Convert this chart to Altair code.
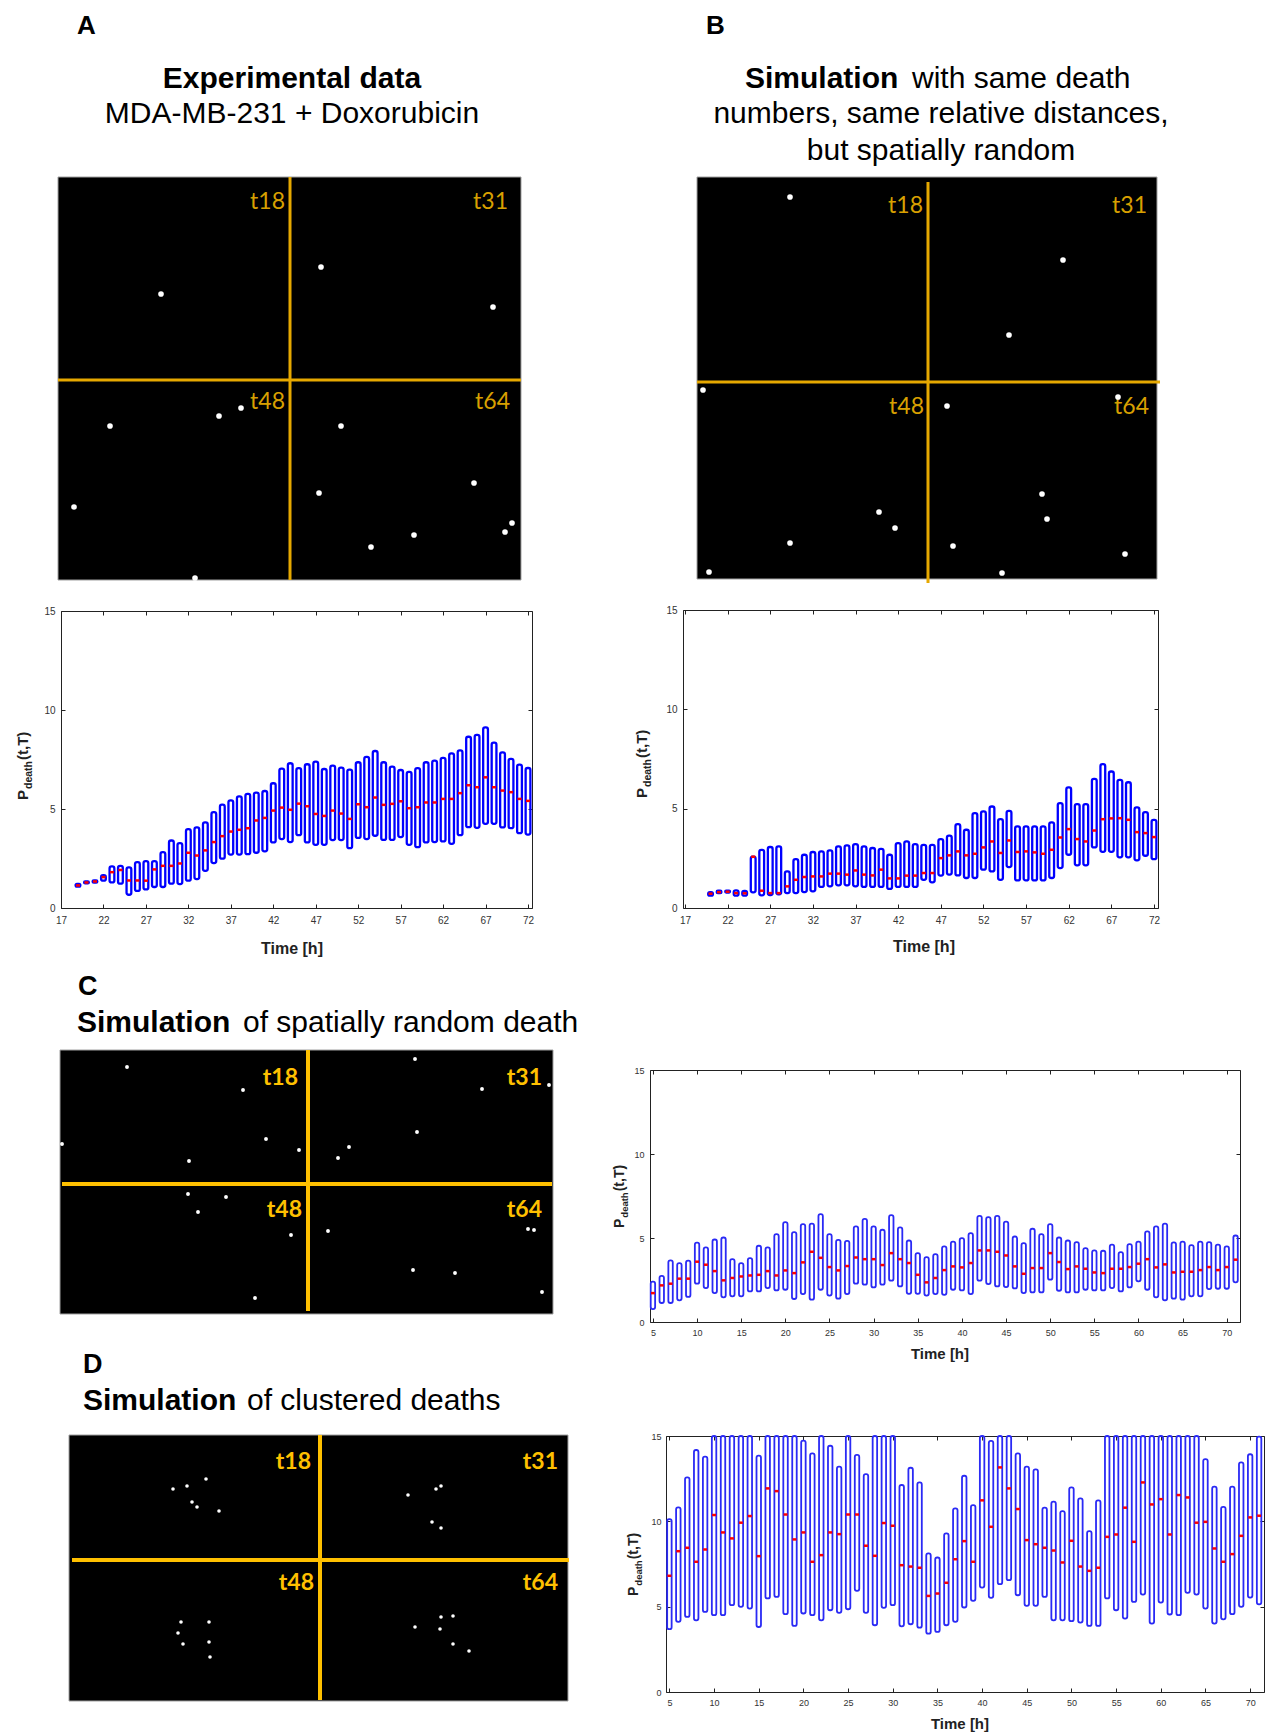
import altair as alt
import pandas as pd

W_TOT, H_TOT = 1266, 1736
FONT = "Liberation Sans"
LBLFONT = "Lato"

# ---------------- box plot data (quartile boxes + medians) ----------------
a_hours = list(range(19, 73))
a_lo = [1.08, 1.24, 1.28, 1.38, 1.29, 1.23, 0.67, 0.86, 0.94, 1.06, 1.06, 1.23, 1.21, 1.38, 1.46, 1.88,
        2.27, 2.49, 2.70, 2.70, 2.72, 2.79, 2.86, 3.31, 3.48, 3.33, 3.68, 3.31, 3.19, 3.19, 3.43, 3.43,
        3.02, 3.54, 3.48, 3.65, 3.44, 3.44, 3.58, 3.19, 3.07, 3.31, 3.33, 3.36, 3.24, 3.68, 4.08, 4.05,
        4.25, 4.25, 4.07, 4.03, 3.78, 3.71]
a_hi = [1.22, 1.34, 1.40, 1.66, 2.10, 2.13, 2.05, 2.32, 2.37, 2.37, 2.82, 3.41, 3.28, 3.98, 4.07, 4.32,
        4.84, 5.22, 5.44, 5.64, 5.76, 5.83, 5.91, 6.30, 7.04, 7.31, 7.06, 7.26, 7.39, 7.02, 7.19, 7.09,
        6.99, 7.36, 7.63, 7.93, 7.36, 7.14, 6.97, 6.87, 7.06, 7.36, 7.44, 7.58, 7.81, 7.96, 8.65, 8.74,
        9.12, 8.35, 7.86, 7.53, 7.24, 7.07]
a_med = [1.14, 1.29, 1.34, 1.56, 1.81, 1.92, 1.39, 1.39, 1.38, 1.95, 2.13, 2.13, 2.25, 2.79, 2.65, 2.91,
         3.33, 3.63, 3.86, 3.95, 4.03, 4.42, 4.55, 4.92, 5.07, 4.96, 5.27, 5.14, 4.75, 4.65, 4.92, 4.77,
         4.50, 5.24, 5.09, 5.58, 5.21, 5.26, 5.39, 5.04, 5.09, 5.33, 5.33, 5.51, 5.51, 5.80, 6.20, 6.10,
         6.60, 6.10, 5.93, 5.85, 5.51, 5.41]

b_hours = list(range(20, 73))
b_lo = [0.62, 0.75, 0.78, 0.62, 0.62, 0.79, 0.64, 0.65, 0.69, 0.75, 0.75, 0.80, 0.84, 1.06, 1.09, 1.14,
        1.14, 1.09, 1.06, 1.06, 1.06, 0.96, 1.06, 1.06, 1.06, 1.42, 1.29, 1.63, 1.68, 1.64, 1.51, 1.51,
        1.93, 1.84, 1.42, 2.06, 1.39, 1.39, 1.39, 1.39, 1.51, 2.01, 2.68, 2.15, 2.15, 3.05, 2.83, 2.83,
        2.55, 2.55, 2.40, 2.63, 2.46]
b_hi = [0.80, 0.87, 0.87, 0.89, 0.86, 2.58, 2.93, 3.07, 3.10, 1.84, 2.46, 2.68, 2.82, 2.85, 2.90, 3.10,
        3.15, 3.22, 3.10, 3.02, 2.98, 2.68, 3.27, 3.35, 3.22, 3.18, 3.18, 3.47, 3.64, 4.22, 3.94, 4.78,
        4.86, 5.11, 4.47, 4.89, 4.11, 4.11, 4.11, 4.11, 4.31, 5.28, 6.07, 5.23, 5.23, 6.50, 7.24, 6.87,
        6.45, 6.33, 5.06, 4.83, 4.44]
b_med = [0.72, 0.80, 0.82, 0.75, 0.74, 2.58, 0.87, 0.75, 0.75, 1.09, 1.42, 1.56, 1.59, 1.59, 1.73, 1.73,
         1.68, 1.89, 1.68, 1.64, 1.93, 1.49, 1.49, 1.63, 1.63, 1.76, 1.76, 2.51, 2.65, 2.85, 2.65, 2.73,
         3.05, 3.35, 2.77, 3.40, 2.82, 2.85, 2.80, 2.73, 2.93, 3.55, 3.97, 3.47, 3.35, 3.90, 4.47, 4.51,
         4.52, 4.44, 3.82, 3.77, 3.57]

c_hours = list(range(5, 72))
c_lo = [0.77, 1.13, 1.13, 1.29, 1.49, 2.28, 2.02, 1.72, 1.47, 1.53, 1.53, 1.82, 1.82, 2.02, 1.88, 1.92,
        1.37, 1.66, 1.33, 1.92, 1.57, 1.39, 1.66, 2.28, 2.22, 2.06, 2.22, 2.46, 2.12, 1.68, 1.68, 1.57,
        1.66, 1.62, 1.92, 1.88, 1.66, 2.46, 2.26, 2.12, 2.08, 2.00, 1.72, 1.76, 1.76, 2.52, 1.86, 1.76,
        1.76, 1.92, 1.88, 1.88, 2.02, 1.82, 2.06, 2.42, 1.92, 1.47, 1.29, 1.39, 1.33, 1.53, 1.53, 1.96,
        1.98, 1.98, 2.36]
c_hi = [2.40, 2.75, 3.67, 3.51, 3.65, 4.72, 4.44, 4.91, 5.03, 3.74, 3.51, 3.80, 4.54, 4.44, 5.23, 5.94,
        5.35, 5.83, 5.86, 6.42, 5.23, 4.89, 4.83, 5.69, 6.14, 5.69, 5.49, 6.36, 5.63, 4.85, 4.10, 3.86,
        4.04, 4.50, 4.79, 4.99, 5.29, 6.32, 6.24, 6.32, 5.98, 5.09, 4.70, 5.55, 5.23, 5.83, 5.03, 4.85,
        4.75, 4.40, 4.26, 4.24, 4.60, 4.16, 4.64, 4.79, 5.39, 5.69, 5.86, 4.74, 4.79, 4.58, 4.79, 4.75,
        4.60, 4.50, 5.15]
c_med = [1.72, 2.18, 2.28, 2.58, 2.58, 3.59, 3.41, 3.03, 2.48, 2.62, 2.71, 2.77, 2.81, 3.03, 2.77, 3.07,
         2.91, 3.55, 4.18, 3.82, 3.27, 3.07, 3.33, 3.84, 3.74, 3.74, 3.39, 4.10, 3.74, 3.51, 2.81, 2.36,
         2.62, 3.09, 3.31, 3.25, 3.51, 4.26, 4.26, 4.18, 3.96, 3.31, 2.87, 3.21, 3.21, 4.10, 3.57, 3.15,
         3.31, 3.17, 2.95, 2.91, 3.17, 3.17, 3.27, 3.47, 3.74, 3.25, 3.43, 2.95, 2.99, 2.99, 3.09, 3.27,
         3.09, 3.27, 3.71]

d_hours = list(range(5, 72))
d_lo = [3.68, 4.11, 4.40, 4.20, 4.69, 4.50, 4.50, 5.09, 4.99, 4.89, 3.81, 5.48, 5.57, 4.56, 3.87, 4.60,
        4.50, 4.20, 4.79, 4.64, 4.85, 5.93, 4.64, 3.91, 4.93, 5.09, 3.85, 3.97, 3.77, 3.42, 3.52, 3.91,
        4.11, 4.95, 5.34, 6.12, 5.52, 6.32, 6.55, 5.67, 5.05, 5.05, 5.57, 4.20, 4.20, 4.15, 4.07, 3.87,
        3.87, 5.48, 4.79, 4.30, 5.28, 5.71, 4.01, 5.24, 4.54, 4.50, 5.81, 5.71, 4.89, 4.01, 4.26, 4.56,
        4.99, 5.53, 5.14]
d_hi = [10.13, 10.82, 12.58, 14.18, 13.79, 16.0, 16.0, 16.0, 16.0, 16.0, 13.85, 16.0, 16.0, 16.0, 16.0,
        14.73, 13.98, 16.0, 14.43, 13.20, 16.0, 13.89, 12.77, 16.0, 16.0, 16.0, 12.13, 13.14, 12.28, 8.12,
        7.88, 9.29, 10.76, 12.67, 10.95, 16.0, 14.71, 16.0, 16.0, 13.98, 13.20, 13.05, 10.80, 11.15, 10.60,
        11.99, 11.34, 9.43, 11.23, 16.0, 16.0, 16.0, 16.0, 16.0, 16.0, 16.0, 16.0, 16.0, 16.0, 16.0,
        13.65, 12.03, 10.85, 12.03, 13.46, 13.93, 14.96]
d_med = [6.81, 8.25, 8.45, 7.63, 8.35, 10.37, 9.35, 9.00, 9.92, 10.31, 7.96, 11.93, 11.77, 10.40, 8.94,
         9.35, 7.63, 8.02, 9.35, 9.25, 10.40, 10.40, 8.57, 7.98, 9.90, 9.74, 7.43, 7.35, 7.28, 5.63, 5.77,
         6.40, 7.78, 8.84, 7.63, 11.23, 9.68, 13.16, 11.93, 10.72, 8.90, 8.66, 8.45, 8.29, 7.59, 8.86,
         7.35, 7.10, 7.28, 9.09, 9.23, 10.80, 8.80, 12.28, 10.99, 11.30, 9.23, 11.54, 11.40, 9.92, 9.97,
         8.41, 7.63, 8.08, 9.15, 10.23, 10.33]

ab_ticks = [17, 22, 27, 32, 37, 42, 47, 52, 57, 62, 67, 72]
cd_ticks = [5, 10, 15, 20, 25, 30, 35, 40, 45, 50, 55, 60, 65, 70]
y_ticks = [0, 5, 10, 15]
y_title_main = "P"
y_title_sub = "death"
y_title_tail = "(t,T)"
x_title = "Time [h]"

# ---------------- death positions in the image panels (image pixel coords) ----------------
img_labels = ["t18", "t31", "t48", "t64"]
a_dx = [103, 263, 435, 52, 161, 183, 16, 137, 283, 261, 416, 356, 313, 447, 454]
a_dy = [117, 90, 130, 249, 239, 231, 330, 401, 249, 316, 306, 358, 370, 355, 346]
b_dx = [93, 366, 312, 6, 250, 421, 182, 198, 93, 12, 256, 345, 350, 305, 428]
b_dy = [20, 83, 158, 213, 229, 220, 335, 351, 366, 395, 369, 317, 342, 396, 377]
c_dx = [67, 183, 2, 129, 206, 239, 355, 422, 489, 357, 289, 278, 128, 166, 138, 231, 195, 268, 468, 474,
        353, 395, 482]
c_dy = [17, 40, 94, 111, 89, 100, 9, 39, 35, 82, 97, 108, 144, 147, 162, 185, 248, 181, 179, 180,
        220, 223, 242]
d_dx = [104, 118, 137, 123, 128, 150, 339, 367, 372, 363, 372, 112, 140, 109, 114, 140, 141,
        346, 372, 384, 371, 384, 400]
d_dy = [54, 51, 44, 67, 72, 76, 60, 54, 51, 87, 93, 187, 187, 198, 209, 207, 222,
        192, 182, 181, 194, 209, 216]

ONE = alt.Data(values=[{"k": 0}])


def txt(s, x, y, size, weight="normal", align="left", angle=0, color="black", font=FONT):
    kw = dict(align=align, baseline="alphabetic", fontSize=size, fontWeight=weight, font=font, color=color)
    if angle:
        kw["angle"] = angle
    return alt.Chart(ONE).mark_text(**kw).encode(x=alt.value(x), y=alt.value(y), text=alt.value(s))


def box_panel(hours, lo, hi, med, xdom, frame, xticks, half, mhalf, stroke, swidth,
              lab_size, xpad, ypad, clamp=False):
    L, R, T, B = frame
    df = pd.DataFrame({"t": hours, "lo": lo, "hi": hi, "med": med})
    xs = alt.Scale(domain=xdom, range=[L, R], nice=False, zero=False)
    ys = alt.Scale(domain=[0, 15], range=[B, T], nice=False, zero=False, clamp=clamp)
    base = alt.Chart(df).transform_calculate(
        x0=f"datum.t - {half}", x1=f"datum.t + {half}",
        m0=f"datum.t - {mhalf}", m1=f"datum.t + {mhalf}")
    common = dict(grid=False, labelFont=FONT, labelColor="#333", labelFontSize=lab_size,
                  domainColor="#222", tickColor="#222", labelFlush=False, labelOverlap=False)
    boxes = base.mark_rect(fill="white", fillOpacity=0, stroke=stroke, strokeWidth=swidth,
                           cornerRadius=2).encode(
        x=alt.X("x0:Q", scale=xs, title=None,
                axis=alt.Axis(orient="bottom", offset=B - H_TOT, values=xticks, ticks=False,
                              domain=True, labelPadding=xpad, **common)),
        x2="x1:Q",
        y=alt.Y("lo:Q", scale=ys, title=None,
                axis=alt.Axis(orient="left", offset=-L, values=y_ticks, ticks=False,
                              domain=True, labelPadding=ypad, **common)),
        y2="hi:Q")
    meds = base.mark_rule(color="#FF0000", strokeWidth=2.5).encode(
        x=alt.X("m0:Q", scale=xs, title=None,
                axis=alt.Axis(orient="top", offset=-B, values=xticks, labels=False, domain=False,
                              ticks=True, tickSize=4, **common)),
        x2="m1:Q",
        y=alt.Y("med:Q", scale=ys, title=None,
                axis=alt.Axis(orient="right", offset=L - W_TOT, values=y_ticks, labels=False,
                              domain=False, ticks=True, tickSize=4, **common)))
    frame_l = base.mark_point(opacity=0).encode(
        x=alt.X("t:Q", scale=xs, title=None,
                axis=alt.Axis(orient="bottom", offset=T - H_TOT, values=xticks, labels=False,
                              domain=True, ticks=True, tickSize=4, **common)),
        y=alt.Y("med:Q", scale=ys, title=None,
                axis=alt.Axis(orient="left", offset=-R, values=y_ticks, labels=False,
                              domain=True, ticks=True, tickSize=4, **common)))
    return [boxes, meds, frame_l]


def y_title(xb, ystart, big, small, gap=1):
    # rotated P_death(t,T): text runs upward from ystart
    p_len = 0.667 * big
    d_len = 2.667 * small
    return [
        txt(y_title_main, xb, ystart, big, "bold", angle=270, color="#222"),
        txt(y_title_sub, xb + 4, ystart - p_len - gap, small, "bold", angle=270, color="#222"),
        txt(y_title_tail, xb, ystart - p_len - d_len - 2 * gap, big, "bold", angle=270, color="#222"),
    ]


def image_panel(dx, dy, origin, size, vline, hline, lab_pos, line_color, line_w, lab_color,
                lab_size, lab_weight, dot_size):
    L, T = origin
    W, H = size
    xs = alt.Scale(domain=[0, W], range=[L, L + W], nice=False, zero=False)
    ys = alt.Scale(domain=[0, H], range=[T, T + H], nice=False, zero=False)
    X = lambda f: alt.X(f, scale=xs, axis=None)
    Y = lambda f: alt.Y(f, scale=ys, axis=None)
    bg = alt.Chart(pd.DataFrame({"x0": [0], "x1": [W], "y0": [0], "y1": [H]})).mark_rect(
        color="black", stroke="#a0a0a0", strokeWidth=1).encode(
        x=X("x0:Q"), x2="x1:Q", y=Y("y0:Q"), y2="y1:Q")
    vx, vy0, vy1 = vline
    hy, hx0, hx1 = hline
    vl = alt.Chart(pd.DataFrame({"x": [vx], "y0": [vy0], "y1": [vy1]})).mark_rule(
        color=line_color, strokeWidth=line_w).encode(x=X("x:Q"), y=Y("y0:Q"), y2="y1:Q")
    hl = alt.Chart(pd.DataFrame({"y": [hy], "x0": [hx0], "x1": [hx1]})).mark_rule(
        color=line_color, strokeWidth=line_w).encode(y=Y("y:Q"), x=X("x0:Q"), x2="x1:Q")
    lx, ly = lab_pos
    labs = alt.Chart(pd.DataFrame({"label": img_labels, "lx": lx, "ly": ly})).mark_text(
        align="right", baseline="alphabetic", font=LBLFONT, fontSize=lab_size,
        fontWeight=lab_weight, color=lab_color).encode(x=X("lx:Q"), y=Y("ly:Q"), text="label:N")
    dots = alt.Chart(pd.DataFrame({"px": dx, "py": dy})).mark_circle(
        color="white", opacity=1, size=dot_size).encode(x=X("px:Q"), y=Y("py:Q"))
    return [bg, vl, hl, labs, dots]


layers = []

# ---------------- images ----------------
layers += image_panel(a_dx, a_dy, (58, 177), (463, 403), (232, 0, 403), (203, 0, 463),
                      ([227, 450, 227, 452], [32, 32, 232, 232]),
                      "#E6A800", 3, "#D9A000", 23, "normal", 32)
layers += image_panel(b_dx, b_dy, (697, 177), (460, 402), (231, 5, 406), (205, 0, 463),
                      ([226, 450, 227, 452], [36, 36, 237, 237]),
                      "#E6A800", 3, "#D9A000", 23, "normal", 32)
layers += image_panel(c_dx, c_dy, (60, 1050), (493, 264), (248, 0, 261), (134, 2, 492),
                      ([238, 482, 242, 482], [35, 35, 167, 167]),
                      "#FFC000", 4, "#FFC000", 23, "bold", 15)
layers += image_panel(d_dx, d_dy, (69, 1435), (499, 266), (251, 0, 265), (125, 3, 500),
                      ([242, 489, 245, 489], [34, 34, 155, 155]),
                      "#FFC000", 4, "#FFC000", 23, "bold", 13)

# ---------------- box plots ----------------
layers += box_panel(a_hours, a_lo, a_hi, a_med, [17, 72.47], (61, 532, 611, 908), ab_ticks,
                    0.28, 0.24, "#0000FF", 2.3, 10, 7, 6)
layers += box_panel(b_hours, b_lo, b_hi, b_med, [16.77, 72.47], (683, 1158, 610, 908), ab_ticks,
                    0.28, 0.24, "#0000FF", 2.3, 10, 7, 6)
layers += box_panel(c_hours, c_lo, c_hi, c_med, [4.67, 71.5], (650, 1240, 1070, 1322), cd_ticks,
                    0.25, 0.22, "#2A2AF5", 1.8, 9, 6, 6)
layers += box_panel(d_hours, d_lo, d_hi, d_med, [4.62, 71.55], (666, 1264, 1436, 1692), cd_ticks,
                    0.25, 0.22, "#2A2AF5", 1.8, 9, 6, 5, clamp=True)

# axis titles
layers += y_title(28, 800, 15, 10.5)
layers += y_title(647, 798, 15, 10.5)
layers += y_title(624, 1228, 14, 9.5)
layers += y_title(638, 1596, 14, 9.5)
layers += [
    txt(x_title, 292, 954, 16, "bold", align="center", color="#222"),
    txt(x_title, 924, 952, 16, "bold", align="center", color="#222"),
    txt(x_title, 940, 1359, 15, "bold", align="center", color="#222"),
    txt(x_title, 960, 1729, 15, "bold", align="center", color="#222"),
]

# ---------------- headers ----------------
layers += [
    txt("A", 77, 34, 26, "bold"),
    txt("B", 706, 34, 26, "bold"),
    txt("Experimental data", 292, 88, 30, "bold", align="center"),
    txt("MDA-MB-231 + Doxorubicin", 292, 123, 30, align="center"),
    txt("Simulation", 745, 88, 30, "bold"),
    txt("with same death", 912, 88, 30),
    txt("numbers, same relative distances,", 941, 123, 30, align="center"),
    txt("but spatially random", 941, 160, 30, align="center"),
    txt("C", 78, 995, 27, "bold"),
    txt("Simulation", 77, 1032, 30, "bold"),
    txt("of spatially random death", 243, 1032, 30),
    txt("D", 83, 1373, 27, "bold"),
    txt("Simulation", 83, 1410, 30, "bold"),
    txt("of clustered deaths", 247, 1410, 30),
]

chart = alt.layer(*layers).resolve_scale(
    x="independent", y="independent"
).resolve_axis(
    x="independent", y="independent"
).properties(
    width=W_TOT, height=H_TOT, padding=0, background="white",
    autosize=alt.AutoSizeParams(type="none")
).configure_view(strokeOpacity=0)

chart.save("out.html", embed_options={"renderer": "svg", "actions": False})
